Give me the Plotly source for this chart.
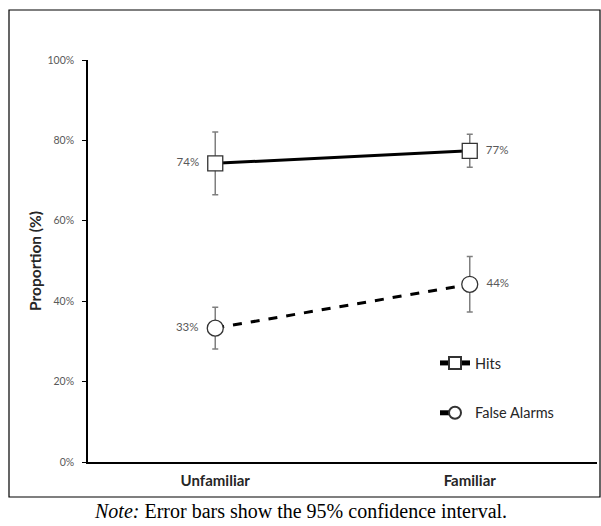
import plotly.graph_objects as go

categories = ["Unfamiliar", "Familiar"]
hits = [74.3, 77.4]
hits_ci = [7.8, 4.1]
false_alarms = [33.3, 44.2]
fa_ci = [5.2, 6.9]
hits_labels = ["74%", "77%"]
fa_labels = ["33%", "44%"]
y_ticks = [0, 20, 40, 60, 80, 100]
y_tick_labels = ["0%", "20%", "40%", "60%", "80%", "100%"]

W, H = 601, 526
ML, MR, MT, MB = 88, 4, 60, 64
pw = W - ML - MR
ph = H - MT - MB

label_pos = ["middle left", "middle right"]
label_tpl = ["%{text}\u2002", "\u2002%{text}"]

fig = go.Figure()
err_style = dict(type="data", color="#7f7f7f", thickness=1.5, width=3)
fig.add_trace(go.Scatter(
    x=categories, y=hits, name="Hits", mode="lines+markers+text",
    line=dict(color="black", width=3),
    marker=dict(symbol="square", size=15, color="white", line=dict(color="#333333", width=1.3)),
    error_y=dict(array=hits_ci, **err_style),
    text=hits_labels, textposition=label_pos, texttemplate=label_tpl,
    textfont=dict(family="Lato", size=11.5, color="#595959"),
    legendgroup="a", cliponaxis=False,
))
fig.add_trace(go.Scatter(
    x=categories, y=false_alarms, name="False Alarms", mode="lines+markers+text",
    line=dict(color="black", width=3, dash="dash"),
    marker=dict(symbol="circle", size=16, color="white", line=dict(color="#333333", width=1.3)),
    error_y=dict(array=fa_ci, **err_style),
    text=fa_labels, textposition=label_pos, texttemplate=label_tpl,
    textfont=dict(family="Lato", size=11.5, color="#595959"),
    legendgroup="b", cliponaxis=False,
))

def px_x(p):
    return (p - ML) / pw

def px_y(p):
    return (H - MB - p) / ph

fig.add_shape(type="rect", xref="paper", yref="paper",
              x0=px_x(9), x1=px_x(600), y0=px_y(497), y1=px_y(10),
              line=dict(color="black", width=1.2), fillcolor="rgba(0,0,0,0)", layer="below")

fig.add_annotation(xref="paper", yref="paper", x=px_x(300), y=px_y(511),
                   text="<i>Note:</i> Error bars show the 95% confidence interval.",
                   showarrow=False, xanchor="center", yanchor="middle",
                   borderpad=0,
                   font=dict(family="Liberation Serif", size=20, color="black"))

fig.update_layout(
    width=W, height=H,
    margin=dict(l=ML, r=MR, t=MT, b=MB),
    paper_bgcolor="white", plot_bgcolor="white",
    font=dict(family="Lato", color="#262626"),
    showlegend=True,
    legend=dict(x=px_x(435), y=px_y(347), xanchor="left", yanchor="top",
                font=dict(family="Lato", size=14.5, color="#262626"),
                tracegroupgap=28, bgcolor="rgba(0,0,0,0)", itemwidth=30,
                itemsizing="constant"),
    xaxis=dict(type="category", range=[-0.5, 1.5], showline=True, linecolor="black",
               linewidth=1.5, showgrid=False, ticks="", zeroline=False,
               tickfont=dict(family="Lato", size=15, color="#262626", weight="bold"),
               ticklabelstandoff=4),
    yaxis=dict(range=[0, 100], tickvals=y_ticks, ticktext=y_tick_labels, showline=True,
               linecolor="black", linewidth=1.5, showgrid=False, zeroline=False,
               ticks="outside", ticklen=4, tickcolor="black", tickwidth=1,
               tickfont=dict(family="Lato", size=10.5, color="#595959"),
               ticklabelstandoff=6,
               title=dict(text="<b>Proportion (%)</b>", standoff=2,
                          font=dict(family="Lato", size=15.5, color="#262626"))),
)

fig.write_html("out.html", config={"displayModeBar": False},
               post_script="document.body.style.margin='0';")
